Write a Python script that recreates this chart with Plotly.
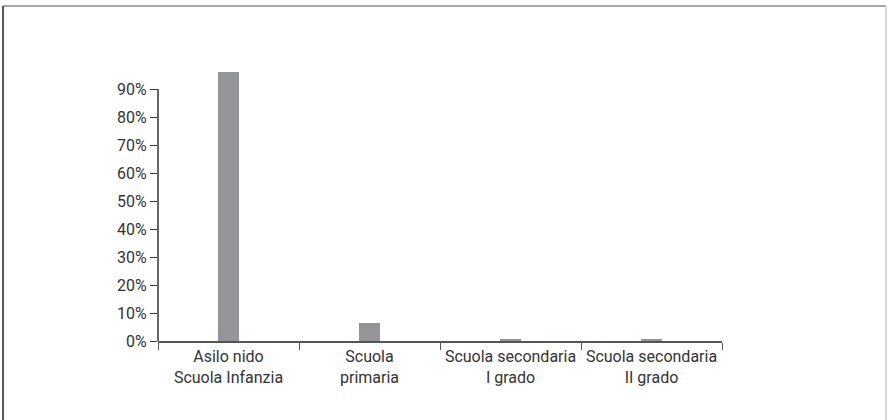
import plotly.graph_objects as go

# data
categories = ["Asilo nido<br>Scuola Infanzia", "Scuola<br>primaria",
              "Scuola secondaria<br>I grado", "Scuola secondaria<br>II grado"]
values = [0.96, 0.063, 0.008, 0.008]
y_ticks = [0, 0.1, 0.2, 0.3, 0.4, 0.5, 0.6, 0.7, 0.8, 0.9]

W, H = 887, 420
L, R, T, B = 158, 165, 61, 79
font = dict(family="Roboto, Arial", size=16, color="#333333")

fig = go.Figure(go.Bar(
    x=categories, y=values,
    width=0.15,
    marker=dict(color="#939598", line=dict(width=0)),
))

fig.update_layout(
    width=W, height=H,
    margin=dict(l=L, r=R, t=T, b=B, autoexpand=False),
    plot_bgcolor="white", paper_bgcolor="white",
    font=font, showlegend=False, bargap=0,
)
fig.update_xaxes(
    showline=True, linecolor="#555555", linewidth=1.5,
    ticks="outside", tickson="boundaries", ticklen=7, tickcolor="#555555",
    showgrid=False, tickfont=font, tickangle=0, automargin=False,
)
fig.update_yaxes(
    range=[0, 1.0], tickvals=y_ticks, tickformat=".0%",
    ticks="outside", ticklen=7, tickcolor="#333333",
    showline=False, showgrid=False, zeroline=False, tickfont=font,
    automargin=False,
)

# y axis line only up to the last tick (90%)
fig.add_shape(type="line", xref="paper", yref="y", x0=0, x1=0, y0=0, y1=0.9,
              line=dict(color="#333333", width=1.5))

# outer frame around the chart (top, left, right)
pw, ph = W - L - R, H - T - B
def px_x(v): return (v - L) / pw
def px_y(v): return (H - B - v) / ph
fig.add_shape(type="line", xref="paper", yref="paper",
              x0=px_x(3), x1=px_x(886), y0=px_y(6), y1=px_y(6),
              line=dict(color="#888888", width=1.5))
fig.add_shape(type="line", xref="paper", yref="paper",
              x0=px_x(3), x1=px_x(3), y0=px_y(6), y1=px_y(421),
              line=dict(color="#222222", width=1.5))
fig.add_shape(type="line", xref="paper", yref="paper",
              x0=px_x(886), x1=px_x(886), y0=px_y(6), y1=px_y(421),
              line=dict(color="#cccccc", width=1.5))

# page has a default body margin; drop it so the chart sits at the window origin
fig.write_html("out.html", config={"displayModeBar": False},
               post_script="document.body.style.margin='0';")
